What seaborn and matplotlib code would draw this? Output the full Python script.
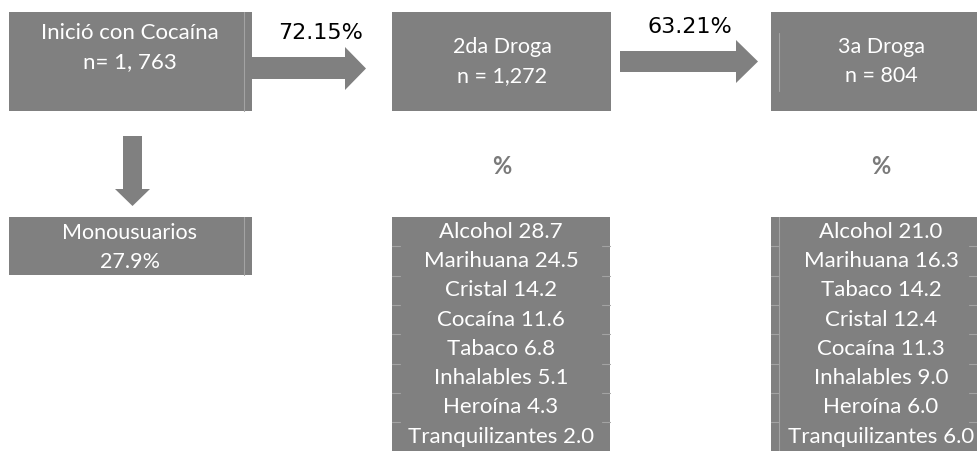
#import libraries
import numpy as np
import seaborn as sns
import matplotlib.pyplot as plt
from matplotlib.patches import Rectangle, Polygon

#data
etapas = ["Inició con Cocaína", "2da Droga", "3a Droga"]
n_etapas = ["n= 1, 763", "n = 1,272", "n = 804"]
transiciones = ["72.15%", "63.21%"]
mono_label = "Monousuarios"
mono_pct = "27.9%"

drogas_2 = ["Alcohol", "Marihuana", "Cristal", "Cocaína", "Tabaco",
            "Inhalables", "Heroína", "Tranquilizantes"]
pct_2 = [28.7, 24.5, 14.2, 11.6, 6.8, 5.1, 4.3, 2.0]

drogas_3 = ["Alcohol", "Marihuana", "Tabaco", "Cristal", "Cocaína",
            "Inhalables", "Heroína", "Tranquilizantes"]
pct_3 = [21.0, 16.3, 14.2, 12.4, 11.3, 9.0, 6.0, 6.0]

#style
sns.set_theme(style="white")
plt.rcParams['font.family'] = ['Lato', 'DejaVu Sans']
gris = sns.color_palette(["#808080"])[0]
linea = "#a3a3a3"

fig = plt.figure(figsize=(9.77, 4.51), dpi=100)
ax = fig.add_axes([0, 0, 1, 1])
ax.set_xlim(0, 977)
ax.set_ylim(451, 0)
ax.axis("off")

def caja(x0, x1, y0, y1):
    ax.add_patch(Rectangle((x0, y0), x1 - x0, y1 - y0, color=gris, lw=0))

def flecha_der(x0, xh, xt, yb0, yb1, yh0, yh1):
    ym = (yh0 + yh1) / 2
    pts = [(x0, yb0), (xh, yb0), (xh, yh0), (xt, ym), (xh, yh1), (xh, yb1), (x0, yb1)]
    ax.add_patch(Polygon(pts, closed=True, color=gris, lw=0))

#top boxes
cajas_x = [(9, 252), (392, 611), (771, 977)]
for (x0, x1) in cajas_x:
    caja(x0, x1, 12, 111)
ax.plot([244, 244], [12, 111], color=linea, lw=0.8)
ax.plot([779, 779], [33, 91], color=linea, lw=0.8)

ax.text(130, 33, etapas[0], color="white", fontsize=16, ha="center", va="center")
ax.text(130, 62, n_etapas[0], color="white", fontsize=16, ha="center", va="center")
for i, cx in [(1, 502), (2, 881)]:
    ax.text(cx, 47, etapas[i], color="white", fontsize=15.5, ha="center", va="center")
    ax.text(cx, 76, n_etapas[i], color="white", fontsize=15.5, ha="center", va="center")

#arrows between boxes
flecha_der(252, 345, 366, 57, 79, 47, 90)
flecha_der(620, 736, 758, 51, 72, 40, 83)
ax.text(321, 33, transiciones[0], color="black", fontsize=16, ha="center", va="center",
        family="DejaVu Sans")
ax.text(690, 27, transiciones[1], color="black", fontsize=16, ha="center", va="center",
        family="DejaVu Sans")

#down arrow
pts = [(123, 136), (142, 136), (142, 189), (150, 189), (132.5, 206),
       (115, 189), (123, 189)]
ax.add_patch(Polygon(pts, closed=True, color=gris, lw=0))

#monousuarios
caja(9, 252, 217, 275)
ax.plot([244, 244], [217, 275], color=linea, lw=0.8)
ax.text(130, 233, mono_label, color="white", fontsize=15.5, ha="center", va="center")
ax.text(130, 262, mono_pct, color="white", fontsize=15.5, ha="center", va="center")

#percent signs
for cx in [502, 881]:
    ax.text(cx, 166, "%", color="#7a7a7a", fontsize=17, fontweight="bold",
            ha="center", va="center")

#lists
alto = 29.3
top = 217
for (x0, x1, cx, drogas, pcts) in [(392, 610, 501, drogas_2, pct_2),
                                    (771, 977, 881, drogas_3, pct_3)]:
    caja(x0, x1, top, 451)
    for k in range(1, len(drogas)):
        yb = top + k * alto
        ax.plot([x0, x0 + 8], [yb, yb], color=linea, lw=0.8)
        ax.plot([x1 - 8, x1], [yb, yb], color=linea, lw=0.8)
    for k, (d, p) in enumerate(zip(drogas, pcts)):
        ax.text(cx, top + (k + 0.5) * alto, f"{d} {p:.1f}", color="white",
                fontsize=16, ha="center", va="center")
ax.plot([779, 779], [top, 451], color=linea, lw=0.8)

plt.savefig("out.png", dpi=100)
